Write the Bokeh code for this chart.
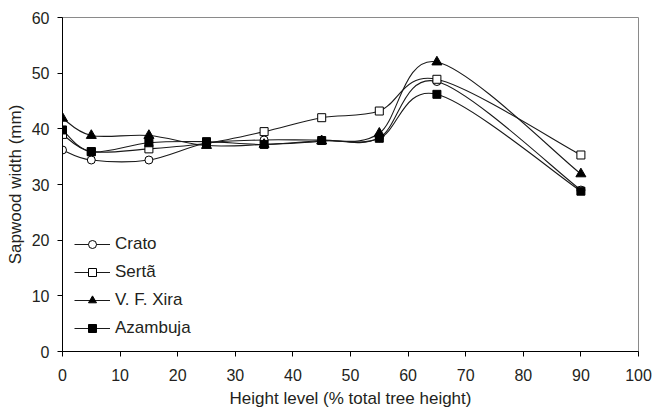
import numpy as np
from bokeh.plotting import figure
from bokeh.models import Range1d, FixedTicker, Legend, LegendItem
from bokeh.embed import file_html
from bokeh.resources import INLINE

# ---- data ----
height_levels = [0, 5, 15, 25, 35, 45, 55, 65, 90]
crato = [36.2, 34.4, 34.4, 37.4, 38.0, 38.0, 38.4, 48.5, 29.0]
serta = [39.0, 35.9, 36.4, 37.4, 39.5, 42.0, 43.2, 48.9, 35.3]
vf_xira = [41.9, 38.8, 38.8, 37.0, 37.2, 37.8, 39.2, 52.0, 31.9]
azambuja = [39.8, 35.9, 37.5, 37.7, 37.2, 37.9, 38.3, 46.2, 28.8]
series_names = ["Crato", "Sertã", "V. F. Xira", "Azambuja"]
x_ticks = [0, 10, 20, 30, 40, 50, 60, 70, 80, 90, 100]
y_ticks = [0, 10, 20, 30, 40, 50, 60]

FONT = "Liberation Sans"
TXT = "#231f20"

p = figure(width=655, height=410, output_backend="svg", toolbar_location=None,
           x_range=Range1d(0, 100), y_range=Range1d(0, 60),
           min_border_left=62, min_border_right=17, min_border_top=17,
           min_border_bottom=58)
p.grid.visible = False
p.outline_line_color = "#8a8a8a"
p.outline_line_width = 1
p.background_fill_color = "white"
p.border_fill_color = "white"

for ax in (p.xaxis[0], p.yaxis[0]):
    ax.axis_line_color = "black"
    ax.axis_line_width = 1
    ax.major_tick_line_color = "black"
    ax.major_tick_out = 5
    ax.major_tick_in = 0
    ax.minor_tick_line_color = None
    ax.major_label_text_font = FONT
    ax.major_label_text_font_size = "16px"
    ax.major_label_text_color = TXT
    ax.axis_label_text_font = FONT
    ax.axis_label_text_font_size = "17px"
    ax.axis_label_text_font_style = "normal"
    ax.axis_label_text_color = TXT

p.xaxis[0].ticker = FixedTicker(ticks=x_ticks)
p.yaxis[0].ticker = FixedTicker(ticks=y_ticks)
p.xaxis[0].axis_label = "Height level (% total tree height)"
p.yaxis[0].axis_label = "Sapwood width (mm)"
p.xaxis[0].major_label_standoff = 12
p.xaxis[0].axis_label_standoff = 5
p.yaxis[0].major_label_standoff = 8
p.yaxis[0].axis_label_standoff = 4


def smooth_segments(xs, ys):
    xs = np.asarray(xs, float)
    ys = np.asarray(ys, float)
    n = len(xs)
    out = {k: [] for k in ("x0", "y0", "x1", "y1", "cx0", "cy0", "cx1", "cy1")}
    for i in range(n - 1):
        i0 = max(i - 1, 0)
        i3 = min(i + 2, n - 1)
        out["x0"].append(xs[i]); out["y0"].append(ys[i])
        out["x1"].append(xs[i + 1]); out["y1"].append(ys[i + 1])
        out["cx0"].append(xs[i] + (xs[i + 1] - xs[i0]) / 6)
        out["cy0"].append(ys[i] + (ys[i + 1] - ys[i0]) / 6)
        out["cx1"].append(xs[i + 1] - (xs[i3] - xs[i]) / 6)
        out["cy1"].append(ys[i + 1] - (ys[i3] - ys[i]) / 6)
    return out


series = [crato, serta, vf_xira, azambuja]
marker_styles = [
    dict(marker="circle", size=8, fill_color="white"),
    dict(marker="square", size=8, fill_color="white"),
    dict(marker="triangle", size=10, fill_color="black"),
    dict(marker="square", size=8, fill_color="black"),
]
LINE = "#1a1a1a"

for ys in series:
    seg = smooth_segments(height_levels, ys)
    p.bezier(line_color=LINE, line_width=1.1, **seg)

items = []
for name, ys, ms in zip(series_names, series, marker_styles):
    sc = p.scatter(height_levels, ys, line_color="black", line_width=1, **ms)
    dummy = p.line([np.nan], [np.nan], line_color=LINE, line_width=1.1)
    items.append(LegendItem(label=name, renderers=[dummy, sc]))

legend = Legend(items=items, location=(12, 13), padding=0, margin=0,
                spacing=8, glyph_width=36, glyph_height=20, label_height=20,
                label_standoff=5, border_line_color=None,
                background_fill_alpha=0,
                label_text_font=FONT, label_text_font_size="17px",
                label_text_color=TXT)
p.add_layout(legend, "center")

open("out.html", "w").write(file_html(p, INLINE))
